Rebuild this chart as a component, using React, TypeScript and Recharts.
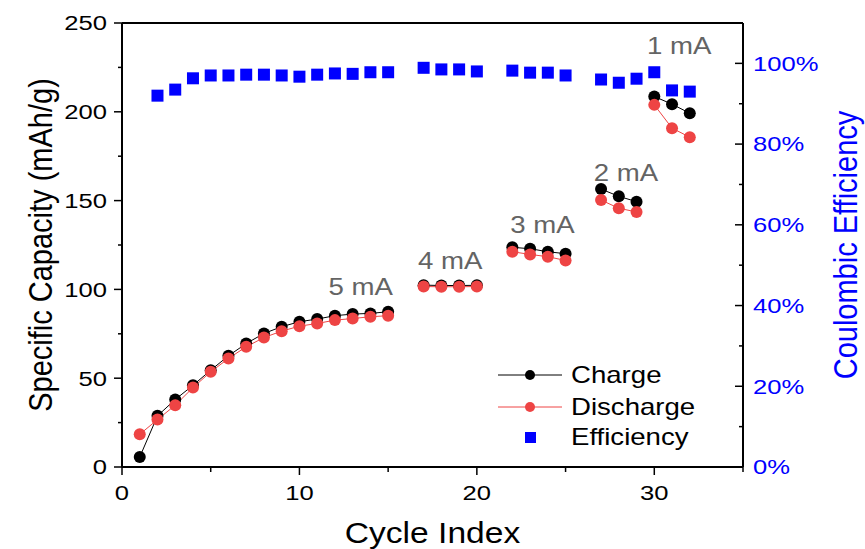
import React from "react";
import {
  ComposedChart, Line, Scatter, XAxis, YAxis, ReferenceLine, ReferenceDot, Legend,
} from "recharts";

// cycle data
const cycles = [
  1, 2, 3, 4, 5, 6, 7, 8, 9, 10, 11, 12, 13, 14, 15,
  17, 18, 19, 20,
  22, 23, 24, 25,
  27, 28, 29,
  30, 31, 32,
];
const rates = [
  "5 mA", "5 mA", "5 mA", "5 mA", "5 mA", "5 mA", "5 mA", "5 mA", "5 mA", "5 mA", "5 mA", "5 mA", "5 mA", "5 mA", "5 mA",
  "4 mA", "4 mA", "4 mA", "4 mA",
  "3 mA", "3 mA", "3 mA", "3 mA",
  "2 mA", "2 mA", "2 mA",
  "1 mA", "1 mA", "1 mA",
];
const charge = [
  5.6, 28.8, 38.0, 46.0, 54.5, 62.6, 69.5, 75.2, 79.0, 81.8, 83.3, 85.2, 86.1, 86.5, 87.4,
  102.4, 102.2, 102.2, 102.3,
  123.7, 122.9, 121.2, 120.1,
  156.5, 152.4, 149.4,
  208.6, 204.3, 199.2,
];
const discharge = [
  18.4, 26.7, 34.8, 44.7, 53.6, 61.1, 67.7, 72.9, 76.5, 79.3, 80.8, 82.7, 83.6, 84.6, 85.2,
  101.6, 101.5, 101.5, 101.6,
  121.2, 119.7, 118.4, 116.3,
  150.3, 145.7, 143.6,
  203.9, 190.8, 185.7,
];
const efficiency: (number | null)[] = [
  null, 92.0, 93.5, 96.3, 97.0, 97.0, 97.2, 97.2, 97.0, 96.7, 97.2, 97.5, 97.4, 97.8, 97.8,
  98.9, 98.5, 98.5, 98.0,
  98.2, 97.7, 97.7, 97.0,
  96.0, 95.2, 96.2,
  97.8, 93.3, 93.0,
];

const xTicks = [0, 5, 10, 15, 20, 25, 30, 35];
const capTicks = [0, 25, 50, 75, 100, 125, 150, 175, 200, 225, 250];
const effTicks = [0, 10, 20, 30, 40, 50, 60, 70, 80, 90, 100];

// where the rate labels sit (data coords)
const rateLabels = ["5 mA", "4 mA", "3 mA", "2 mA", "1 mA"];
const rateLabelX = [13.45, 18.5, 23.7, 28.4, 31.4];
const rateLabelY = [101.5, 116.5, 136.7, 165.9, 237];

const rows = cycles.map((c, i) => ({
  cycle: c,
  rate: rates[i],
  charge: charge[i],
  discharge: discharge[i],
  eff: efficiency[i],
}));
const effRows = rows.filter((r) => r.eff !== null);

const FONT = "'Liberation Sans', Arial, sans-serif";
const SX = 1.15;
const TSX = 1.22; // tick labels look a bit wider
const RED = "#EE4444";
const BLUE = "#0000FF";

function LeftTick(props: any) {
  const { x, y, payload } = props;
  const major = payload.value % 50 === 0;
  return (
    <g>
      <line x1={x} x2={x - (major ? 8 : 4)} y1={y} y2={y} stroke="#000" strokeWidth={1.5} />
      {major && (
        <text transform={`translate(${x - 15},${y}) scale(${TSX},1)`} textAnchor="end" dy="0.35em"
          fontSize={21} fontFamily={FONT} fill="#000">{payload.value}</text>
      )}
    </g>
  );
}

function RightTick(props: any) {
  const { x, y, payload } = props;
  const major = payload.value % 20 === 0;
  return (
    <g>
      <line x1={x} x2={x - (major ? 8 : 4)} y1={y} y2={y} stroke="#000" strokeWidth={1.5} />
      {major && (
        <text transform={`translate(${x + 10},${y}) scale(${TSX},1)`} textAnchor="start" dy="0.35em"
          fontSize={21} fontFamily={FONT} fill={BLUE}>{payload.value}%</text>
      )}
    </g>
  );
}

function BottomTick(props: any) {
  const { x, y, payload } = props;
  const major = payload.value % 10 === 0 && payload.value < 35;
  return (
    <g>
      <line x1={x} x2={x} y1={y} y2={y + (major ? 8 : 5)} stroke="#000" strokeWidth={1.5} />
      {major && (
        <text transform={`translate(${x},${y + 33}) scale(${TSX},1)`} textAnchor="middle"
          fontSize={21} fontFamily={FONT} fill="#000">{payload.value}</text>
      )}
    </g>
  );
}

function Square(props: any) {
  const { cx, cy } = props;
  if (cx == null || cy == null) return null;
  return <rect x={cx - 6} y={cy - 6} width={12} height={12} fill={BLUE} />;
}

const rateLabel = (text: string) => (p: any) => {
  const vb = p.viewBox || {};
  return (
    <text transform={`translate(${vb.x},${vb.y}) scale(${SX},1)`} textAnchor="middle" dy="0.35em"
      fontSize={24} fontFamily={FONT} fill="#646464">{text}</text>
  );
};

const renderLegend = () => (
  <svg width={260} height={95}>
    <line x1={8} x2={72} y1={17} y2={17} stroke="#000" strokeWidth={1} />
    <circle cx={40} cy={17} r={5} fill="#000" />
    <text transform={`translate(81,17) scale(1.2,1)`} dy="0.35em" fontSize={23} fontFamily={FONT}>Charge</text>
    <line x1={8} x2={72} y1={49} y2={49} stroke={RED} strokeWidth={1} />
    <circle cx={40} cy={49} r={5} fill={RED} />
    <text transform={`translate(81,49) scale(1.2,1)`} dy="0.35em" fontSize={23} fontFamily={FONT}>Discharge</text>
    <rect x={35} y={74} width={11} height={11} fill={BLUE} />
    <text transform={`translate(81,79) scale(1.2,1)`} dy="0.35em" fontSize={23} fontFamily={FONT}>Efficiency</text>
  </svg>
);

export default function App() {
  return (
    <div style={{ position: "absolute", left: 0, top: 0, background: "#fff" }}>
      <ComposedChart width={865} height={549} margin={{ top: 23, right: 0, bottom: 0, left: 0 }}>
        <XAxis
          dataKey="cycle"
          type="number"
          domain={[0, 35]}
          ticks={xTicks}
          interval={0}
          height={82}
          tickSize={0}
          tickMargin={0}
          tickLine={false}
          axisLine={{ stroke: "#000", strokeWidth: 2 }}
          tick={<BottomTick />}
          label={{
            content: (p: any) => (
              <text transform={`translate(${p.viewBox.x + p.viewBox.width / 2},${p.viewBox.y + 76}) scale(1.12,1)`}
                textAnchor="middle" fontSize={30} fontFamily={FONT} fill="#000">Cycle Index</text>
            ),
          }}
        />
        <YAxis
          yAxisId="left"
          type="number"
          domain={[0, 250]}
          ticks={capTicks}
          interval={0}
          width={122}
          tickSize={0}
          tickMargin={0}
          tickLine={false}
          axisLine={{ stroke: "#000", strokeWidth: 2 }}
          tick={<LeftTick />}
          label={{
            content: (p: any) => (
              <text transform={`translate(${p.viewBox.x + 52},${p.viewBox.y + p.viewBox.height / 2}) scale(${SX},1) rotate(-90)`}
                textAnchor="middle" fontSize={29} fontFamily={FONT} fill="#000">Specific Capacity (mAh/g)</text>
            ),
          }}
        />
        <YAxis
          yAxisId="right"
          orientation="right"
          type="number"
          domain={[0, 110]}
          ticks={effTicks}
          interval={0}
          width={122}
          tickSize={0}
          tickMargin={0}
          tickLine={false}
          axisLine={{ stroke: "#000", strokeWidth: 2 }}
          tick={<RightTick />}
          label={{
            content: (p: any) => (
              <text transform={`translate(${p.viewBox.x + 114},${p.viewBox.y + p.viewBox.height / 2}) scale(${SX},1) rotate(-90)`}
                textAnchor="middle" fontSize={29} fontFamily={FONT} fill={BLUE}>Coulombic Efficiency</text>
            ),
          }}
        />
        <ReferenceLine yAxisId="left" y={250} stroke="#000" strokeWidth={2} />

        {rateLabels.map((rate) => (
          <Line
            key={`c-${rate}`}
            yAxisId="left"
            data={rows.filter((r) => r.rate === rate)}
            dataKey="charge"
            name="Charge"
            stroke="#000"
            strokeWidth={1}
            dot={{ r: 6, fill: "#000", stroke: "none" }}
            activeDot={false}
            isAnimationActive={false}
          />
        ))}
        {rateLabels.map((rate) => (
          <Line
            key={`d-${rate}`}
            yAxisId="left"
            data={rows.filter((r) => r.rate === rate)}
            dataKey="discharge"
            name="Discharge"
            stroke={RED}
            strokeWidth={1}
            dot={{ r: 6, fill: RED, stroke: "none" }}
            activeDot={false}
            isAnimationActive={false}
          />
        ))}
        <Scatter
          yAxisId="right"
          data={effRows}
          dataKey="eff"
          name="Efficiency"
          fill={BLUE}
          shape={<Square />}
          isAnimationActive={false}
        />

        {rateLabels.map((rate, i) => (
          <ReferenceDot
            key={`l-${rate}`}
            yAxisId="left"
            x={rateLabelX[i]}
            y={rateLabelY[i]}
            r={0}
            fill="none"
            stroke="none"
            label={{ content: rateLabel(rate) }}
          />
        ))}

        <Legend
          layout="vertical"
          align="center"
          verticalAlign="middle"
          content={renderLegend}
          wrapperStyle={{ left: 490, top: 358, width: 260, height: 95 }}
        />
      </ComposedChart>
    </div>
  );
}
